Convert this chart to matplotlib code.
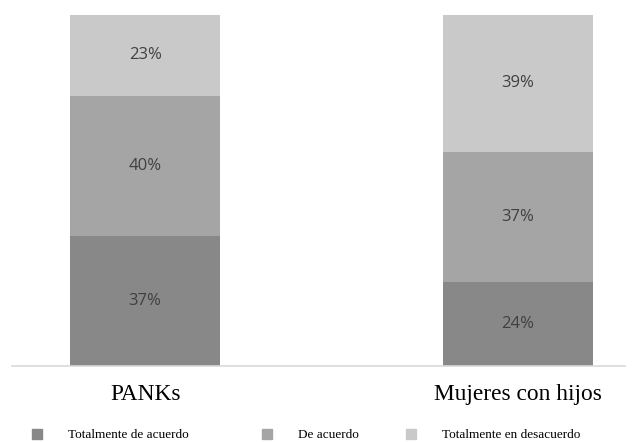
import numpy as np
import matplotlib.pyplot as plt
from matplotlib.patches import Patch

grupos = ['PANKs', 'Mujeres con hijos']
series = ['Totalmente de acuerdo', 'De acuerdo', 'Totalmente en desacuerdo']
totalmente_acuerdo = [37, 24]
de_acuerdo = [40, 37]
totalmente_desacuerdo = [23, 39]

colores = ['#888888', '#a5a5a5', '#c9c9c9']

fig = plt.figure(figsize=(6.36, 4.42), dpi=100)
ax = fig.add_axes([12 / 636, 1 - 366 / 442, 613 / 636, 351 / 442])

x = np.arange(len(grupos))
base = np.zeros(len(grupos))
for valores, color in zip([totalmente_acuerdo, de_acuerdo, totalmente_desacuerdo], colores):
    barras = ax.bar(x, valores, bottom=base, width=0.402, color=color)
    for b, v in zip(barras, valores):
        ax.text(b.get_x() + b.get_width() / 2, b.get_y() + v / 2, f'{v}%',
                ha='center', va='center', fontsize=12, color='#404040',
                family='Open Sans')
    base += valores

ax.set_xlim(-0.357, 1.287)
ax.set_ylim(0, 100)
ax.set_yticks([])
ax.set_xticks(x)
ax.set_xticklabels(grupos, family='Liberation Serif', fontsize=16.8)
ax.tick_params(axis='x', length=0, pad=13)
for s in ['top', 'left', 'right']:
    ax.spines[s].set_visible(False)
ax.spines['bottom'].set_color('#d9d9d9')
ax.spines['bottom'].set_linewidth(1.2)

# leyenda: cada entrada en su propio hueco, como hace Word
pos_leyenda = [32, 262, 406]
for nombre, color, px in zip(series, colores, pos_leyenda):
    leg = fig.legend([Patch(color=color)], [nombre], loc='center left',
                     bbox_to_anchor=(px / 636, 1 - 435 / 442), frameon=False,
                     prop={'family': 'Liberation Serif', 'size': 9.5},
                     borderpad=0, borderaxespad=0,
                     handlelength=0.76, handleheight=0.76, handletextpad=2.0)

fig.savefig('out.png', dpi=100)
